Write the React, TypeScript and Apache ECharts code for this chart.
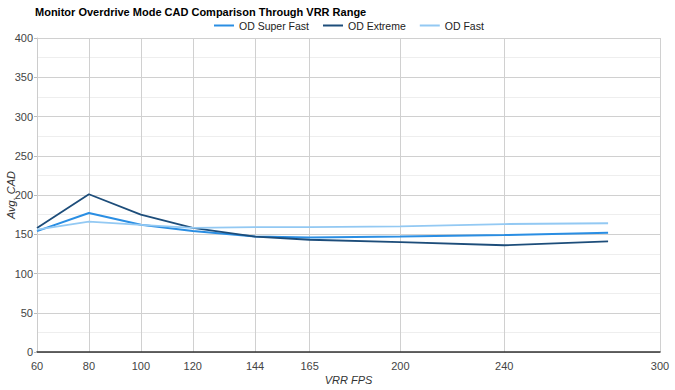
import React, { useEffect, useRef } from "react";
import * as echarts from "echarts";

const fpsTicks = [60, 80, 100, 120, 144, 165, 200, 240, 300];
const fpsPoints = [60, 80, 100, 120, 144, 165, 200, 240, 280];
const odSuperFast = [154, 177, 162, 154, 147, 146, 147, 149, 152];
const odExtreme = [158, 201, 175, 158, 147, 143, 140, 136, 141];
const odFast = [156, 166, 162, 158, 159, 159, 160, 163, 164];

const FONT = "'Liberation Sans', Arial, sans-serif";

export default function App() {
  const ref = useRef<HTMLDivElement>(null);
  useEffect(() => {
    const chart = echarts.init(ref.current!, null, { renderer: "svg" });
    const mk = (vals: number[]) => fpsPoints.map((x, i) => [x, vals[i]]);
    chart.setOption({
      animation: false,
      backgroundColor: "#fff",
      textStyle: { fontFamily: FONT },
      title: {
        text: "Monitor Overdrive Mode CAD Comparison Through VRR Range",
        left: 30,
        top: 1,
        textStyle: { fontSize: 11, fontWeight: "bold", color: "#000", fontFamily: FONT },
      },
      legend: {
        top: 15,
        left: 209,
        icon: "rect",
        itemWidth: 20,
        itemHeight: 2,
        itemGap: 14,
        textStyle: { fontSize: 10.5, color: "#222", fontFamily: FONT },
        data: ["OD Super Fast", "OD Extreme", "OD Fast"],
      },
      grid: { left: 37, right: 15, top: 38, bottom: 38, containLabel: false, outerBoundsMode: "none" },
      xAxis: {
        type: "value",
        min: 60,
        max: 300,
        name: "VRR FPS",
        nameLocation: "middle",
        nameGap: 22,
        nameMoveOverlap: false,
        nameTextStyle: { fontStyle: "italic", fontSize: 11, color: "#333", fontFamily: FONT },
        axisLine: { show: true, lineStyle: { color: "#333", width: 1.5 } },
        axisTick: { show: false, customValues: fpsTicks },
        axisLabel: { customValues: fpsTicks, color: "#444", fontSize: 11, margin: 8, fontFamily: FONT },
        splitLine: { show: true, lineStyle: { color: "#d0d0d0" } },
      },
      yAxis: {
        type: "value",
        min: 0,
        max: 400,
        interval: 50,
        name: "Avg. CAD",
        nameLocation: "middle",
        nameGap: 21,
        nameMoveOverlap: false,
        nameTextStyle: { fontStyle: "italic", fontSize: 11, color: "#333", fontFamily: FONT },
        axisLine: { show: true, lineStyle: { color: "#ccc" } },
        axisTick: { show: true, length: 3, lineStyle: { color: "#bbb" } },
        axisLabel: { color: "#444", fontSize: 11, margin: 4, fontFamily: FONT },
        splitLine: { show: true, lineStyle: { color: "#d0d0d0" } },
        minorTick: { show: false, splitNumber: 2 },
        minorSplitLine: { show: true, lineStyle: { color: "#eeeeee" } },
      },
      series: [
        {
          name: "OD Super Fast",
          type: "line",
          data: mk(odSuperFast),
          symbol: "none",
          color: "#2a8ee3",
          lineStyle: { width: 2, color: "#2a8ee3" },
        },
        {
          name: "OD Extreme",
          type: "line",
          data: mk(odExtreme),
          symbol: "none",
          color: "#1d4d7a",
          lineStyle: { width: 1.8, color: "#1d4d7a" },
        },
        {
          name: "OD Fast",
          type: "line",
          data: mk(odFast),
          symbol: "none",
          color: "#93c9f3",
          lineStyle: { width: 1.8, color: "#93c9f3" },
        },
      ],
    });
    return () => chart.dispose();
  }, []);
  return <div ref={ref} style={{ width: 675, height: 390, position: "absolute", left: 0, top: 0 }} />;
}
